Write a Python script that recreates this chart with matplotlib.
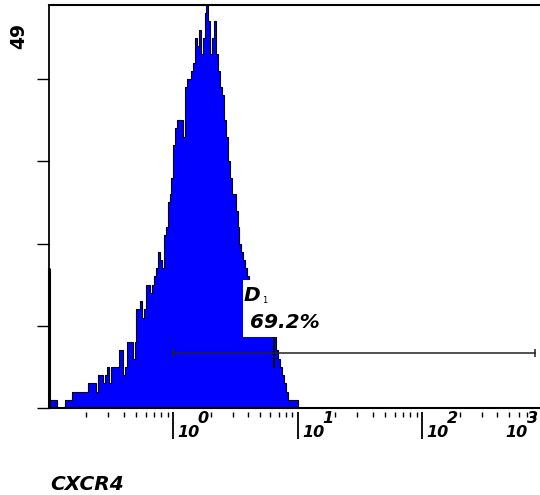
import numpy as np
import matplotlib
matplotlib.use("Agg")
import matplotlib.pyplot as plt
from matplotlib.ticker import FixedLocator, LogLocator, NullFormatter
from matplotlib.patches import Rectangle

# ---------------- data ----------------
decade_start = -1.0            # first channel edge = 10^-1
channels_per_decade = 64
counts = [1, 1, 1, 1, 0, 0, 0, 0, 1, 1, 1, 1, 2, 2, 2, 2, 2, 2, 2, 2,
          3, 3, 3, 3, 2, 4, 4, 4, 3, 4, 5, 3, 5, 5, 5, 5, 7, 7, 4, 5,
          8, 8, 8, 6, 8, 12, 12, 13, 11, 12, 15, 15, 14, 15, 16, 17, 19, 18, 17, 21,
          22, 25, 26, 28, 32, 34, 35, 35, 35, 33, 39, 40, 40, 41, 42, 45, 44, 46, 43, 45,
          48, 49, 47, 43, 45, 47, 43, 41, 39, 38, 35, 33, 30, 28, 26, 26, 24, 22, 20, 19,
          18, 17, 16, 15, 15, 14, 14, 13, 13, 13, 12, 11, 10, 10, 9, 5, 9, 7, 6, 5,
          4, 3, 2, 1, 1, 1, 1, 1]
offscale_low_count = 17
y_max = 49
y_ticks = [0, 10, 20, 30, 40]
decade_ticks = [1, 10, 100]
decade_exponents = ["0", "1", "2"]
last_exponent = "3"
gate_range = [1.0, 813.0]
gate_level = 6.7
gate_name = "D"
gate_sub = "1"
gate_percent = "69.2%"
x_label = "CXCR4"

# ---------------- figure ----------------
W, H = 540, 495
fig = plt.figure(figsize=(W / 100, H / 100), dpi=100)
ax = fig.add_axes([49 / W, 1 - 408 / H, 491 / W, 403 / H])
ax.set_xscale("log")
ax.set_xlim(10 ** decade_start, 10 ** (decade_start + 491 / 124.4))
ax.set_ylim(0, y_max)

edges = 10 ** (decade_start + np.arange(len(counts) + 1) / channels_per_decade)
ax.stairs(counts, edges, fill=True, facecolor="#0000ff", edgecolor="none", zorder=2)
ax.stairs(counts, edges, color="black", lw=0.8, zorder=3)
ax.vlines(10 ** decade_start, 0, offscale_low_count, color="black", lw=2.2,
          clip_on=False, zorder=4)

# gate marker
ax.plot(gate_range, [gate_level, gate_level], color="#222222", lw=1.1,
        marker="|", ms=5.5, mew=1.1, zorder=4)

# gate labels with white boxes
ax.add_patch(Rectangle((3.65, 12.8), 5.6 - 3.65, 15.6 - 12.8, facecolor="white",
                       edgecolor="none", zorder=5))
ax.add_patch(Rectangle((3.65, 8.6), 16 - 3.65, 12.8 - 8.6, facecolor="white",
                       edgecolor="none", zorder=5))
txt_kw = dict(fontstyle="italic", fontweight="bold")
ax.text(3.68, 12.95, gate_name, fontsize=14.5, ha="left", va="baseline", zorder=6,
        **txt_kw)
ax.text(5.15, 12.8, gate_sub, fontsize=6, ha="left", va="baseline", zorder=6)
ax.text(4.16, 9.73, gate_percent, fontsize=14.5, ha="left", va="baseline", zorder=6,
        **txt_kw)

# spines
ax.spines["right"].set_visible(False)
ax.spines["top"].set_linewidth(1.5)
ax.spines["left"].set_linewidth(1.3)
ax.spines["bottom"].set_position(("outward", 3))
ax.spines["bottom"].set_visible(False)
ax.axhline(0, color="black", lw=1.5, clip_on=False, zorder=4)

# ticks
ax.xaxis.set_major_locator(FixedLocator(decade_ticks))
ax.xaxis.set_minor_locator(LogLocator(base=10, subs=np.arange(2, 10)))
ax.xaxis.set_major_formatter(NullFormatter())
ax.xaxis.set_minor_formatter(NullFormatter())
ax.tick_params(axis="x", which="major", direction="out", length=19.4, width=1.3,
               top=False)
ax.tick_params(axis="x", which="minor", direction="out", length=3.6, width=1.0,
               top=False)
ax.set_yticks(y_ticks)
ax.set_yticklabels([])
ax.tick_params(axis="y", direction="out", length=8.6, width=1.0, right=False)

lab_kw = dict(fontsize=11.5, annotation_clip=False, **txt_kw)
for t, e in zip(decade_ticks, decade_exponents):
    base = ax.annotate("10", xy=(t, 0), xycoords=("data", "axes fraction"),
                       xytext=(3, -20.6), textcoords="offset points",
                       ha="left", va="baseline", **lab_kw)
    ax.annotate(e, xy=(1, 0), xycoords=base, xytext=(-1.5, 9.6),
                textcoords="offset points", ha="left", va="bottom", **lab_kw)
base = ax.annotate("10", xy=(1, 0), xycoords="axes fraction",
                   xytext=(-25.2, -20.6), textcoords="offset points",
                   ha="left", va="baseline", **lab_kw)
ax.annotate(last_exponent, xy=(1, 0), xycoords=base, xytext=(0.0, 9.6),
            textcoords="offset points", ha="left", va="bottom", **lab_kw)

# y max label
ax.annotate(str(y_max), xy=(0, 1), xycoords="axes fraction", xytext=(-21.6, -22),
            textcoords="offset points", rotation=90, ha="center", va="center",
            fontsize=13.5, fontweight="bold", annotation_clip=False)

fig.text(50 / W, 1 - 490 / H, x_label, fontsize=14.5, ha="left", va="baseline",
         **txt_kw)

fig.savefig("out.png", dpi=100, facecolor="white")
